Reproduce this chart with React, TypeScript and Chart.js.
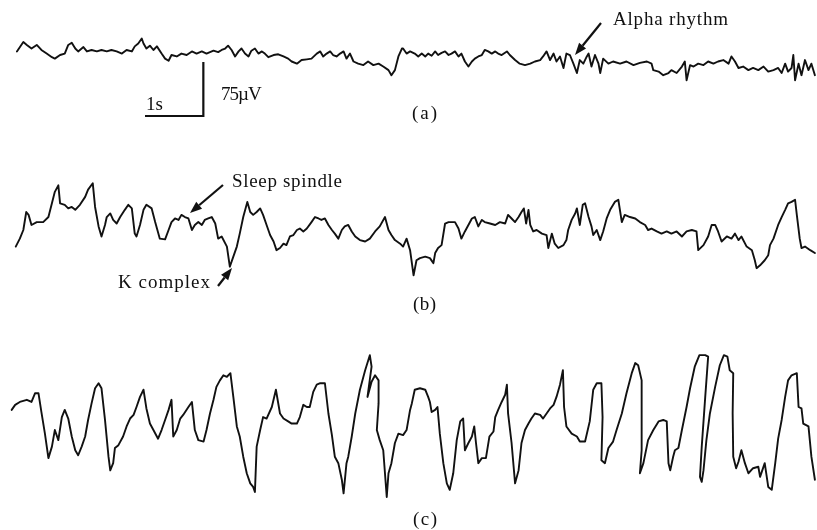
import React, { useEffect, useRef } from "react";
import { Chart, registerables } from "chart.js";

Chart.register(...registerables);

// ---- Data (time in seconds, amplitude in µV) ----
const TIME_SPAN_S = 14.006;
const CHART_UV_SPAN = 736; // vertical extent of the page, µV
const TRACE_LABELS = ["(a)", "(b)", "(c)"];
const TRACE_OFFSETS_UV = [76.4, 326.4, 597.2];
const SCALE_BAR_TIME_S = 1;
const SCALE_BAR_UV = 75;

const traceA: [number, number][] = [
  [0.29,5],[0.40,18],[0.46,14],[0.54,9],[0.63,14],[0.71,7],[0.80,2],[0.89,-3],[0.94,-5],[1.03,0],[1.11,2],[1.17,14],[1.23,17],[1.29,9],[1.34,5],[1.43,11],[1.49,5],[1.57,7],[1.66,5],[1.74,7],[1.83,5],[1.91,7],[2.00,5],[2.09,2],[2.17,7],[2.26,5],[2.31,12],[2.37,16],[2.43,23],[2.46,16],[2.51,9],[2.57,13],[2.63,7],[2.69,12],[2.77,2],[2.83,-5],[2.89,-8],[2.94,0],[3.03,-2],[3.11,2],[3.20,0],[3.29,5],[3.37,2],[3.46,5],[3.54,2],[3.66,6],[3.74,4],[3.80,7],[3.86,9],[3.91,13],[3.97,7],[4.03,-2],[4.09,5],[4.14,9],[4.20,2],[4.26,-2],[4.31,6],[4.37,9],[4.43,2],[4.49,5],[4.54,2],[4.60,-3],[4.69,0],[4.77,1],[4.86,-2],[4.94,-5],[5.00,-9],[5.09,-12],[5.17,-7],[5.26,-6],[5.34,-5],[5.43,2],[5.49,5],[5.54,-2],[5.60,2],[5.66,5],[5.71,0],[5.77,-2],[5.83,2],[5.89,5],[5.94,-5],[6.00,2],[6.06,-9],[6.14,-12],[6.23,-14],[6.31,-9],[6.40,-14],[6.49,-12],[6.57,-16],[6.66,-21],[6.71,-28],[6.77,-21],[6.83,-2],[6.89,9],[6.91,9],[6.97,2],[7.03,5],[7.11,2],[7.17,-2],[7.23,2],[7.29,-2],[7.34,2],[7.40,-1],[7.46,5],[7.51,0],[7.57,3],[7.63,5],[7.69,0],[7.74,2],[7.80,5],[7.86,-2],[7.91,2],[7.97,-9],[8.03,-16],[8.09,-9],[8.14,-5],[8.20,-2],[8.26,0],[8.31,7],[8.37,5],[8.43,2],[8.49,5],[8.54,2],[8.60,0],[8.69,5],[8.74,0],[8.83,-7],[8.91,-12],[9.00,-14],[9.09,-12],[9.17,-9],[9.26,-7],[9.31,-2],[9.37,5],[9.43,-7],[9.49,2],[9.54,-9],[9.60,-2],[9.66,-18],[9.71,2],[9.77,0],[9.83,-12],[9.89,-25],[9.94,-7],[10.00,-12],[10.06,-2],[10.09,2],[10.14,-16],[10.20,0],[10.26,-12],[10.29,-25],[10.34,-5],[10.43,-12],[10.51,-9],[10.63,-12],[10.74,-9],[10.86,-14],[10.97,-11],[11.09,-9],[11.17,-12],[11.20,-21],[11.29,-23],[11.37,-28],[11.46,-25],[11.51,-21],[11.60,-25],[11.69,-16],[11.74,-9],[11.77,-35],[11.83,-14],[11.89,-16],[11.97,-12],[12.06,-14],[12.14,-9],[12.23,-12],[12.31,-9],[12.40,-7],[12.49,-12],[12.54,-2],[12.60,-9],[12.66,-18],[12.74,-16],[12.83,-21],[12.91,-18],[13.00,-21],[13.09,-16],[13.17,-23],[13.26,-21],[13.34,-18],[13.40,-25],[13.46,-12],[13.51,-23],[13.57,-18],[13.60,0],[13.63,-35],[13.69,-12],[13.74,-28],[13.80,-7],[13.86,-21],[13.91,-12],[13.97,-28]
];

const traceB: [number, number][] = [
  [0.27,-16],[0.34,-5],[0.40,7],[0.45,32],[0.49,28],[0.54,14],[0.63,18],[0.74,18],[0.83,25],[0.89,44],[0.94,60],[1.00,69],[1.03,44],[1.11,42],[1.17,37],[1.23,39],[1.29,35],[1.37,42],[1.46,53],[1.51,63],[1.59,72],[1.63,39],[1.69,12],[1.74,-2],[1.80,14],[1.83,25],[1.89,30],[1.94,21],[2.00,16],[2.06,25],[2.14,35],[2.20,42],[2.26,37],[2.31,2],[2.34,-2],[2.40,14],[2.46,35],[2.51,42],[2.60,37],[2.66,18],[2.74,-5],[2.83,-6],[2.89,7],[2.94,18],[3.00,23],[3.06,21],[3.11,28],[3.17,25],[3.23,23],[3.29,7],[3.34,14],[3.40,18],[3.46,14],[3.51,21],[3.57,23],[3.63,25],[3.69,16],[3.74,-5],[3.80,-2],[3.89,-16],[3.94,-44],[4.00,-30],[4.06,-16],[4.11,2],[4.17,25],[4.24,46],[4.29,32],[4.34,28],[4.40,32],[4.46,37],[4.51,28],[4.57,14],[4.63,0],[4.69,-9],[4.74,-21],[4.80,-18],[4.86,-12],[4.91,-14],[4.97,-2],[5.03,0],[5.09,7],[5.14,9],[5.20,5],[5.26,9],[5.34,18],[5.40,25],[5.46,23],[5.51,21],[5.57,23],[5.63,14],[5.69,7],[5.74,2],[5.80,-5],[5.86,7],[5.91,12],[5.97,14],[6.03,5],[6.09,-2],[6.17,-7],[6.26,-9],[6.34,-5],[6.43,5],[6.51,12],[6.60,25],[6.66,7],[6.71,0],[6.77,-7],[6.86,-12],[6.91,-16],[6.97,-5],[7.03,-21],[7.09,-56],[7.14,-35],[7.20,-32],[7.29,-30],[7.37,-32],[7.43,-39],[7.46,-25],[7.51,-18],[7.57,-14],[7.63,16],[7.69,18],[7.80,18],[7.86,9],[7.91,-5],[7.97,5],[8.03,14],[8.09,23],[8.14,25],[8.20,12],[8.26,21],[8.31,18],[8.40,16],[8.49,14],[8.57,18],[8.66,16],[8.71,28],[8.77,23],[8.83,18],[8.89,25],[8.94,32],[8.98,37],[9.02,16],[9.06,35],[9.09,14],[9.14,5],[9.20,7],[9.29,2],[9.37,0],[9.40,-18],[9.46,2],[9.51,-12],[9.57,-18],[9.66,-14],[9.71,-7],[9.74,7],[9.80,21],[9.86,30],[9.89,37],[9.94,14],[9.99,42],[10.03,44],[10.09,25],[10.14,12],[10.17,0],[10.23,7],[10.29,-7],[10.34,5],[10.40,23],[10.46,35],[10.54,46],[10.60,49],[10.66,18],[10.71,28],[10.80,25],[10.89,23],[10.97,18],[11.06,14],[11.11,7],[11.17,9],[11.26,5],[11.34,2],[11.43,5],[11.51,2],[11.60,5],[11.69,-2],[11.77,5],[11.86,7],[11.94,5],[11.97,-21],[12.06,-14],[12.14,-2],[12.20,14],[12.26,14],[12.31,5],[12.37,-9],[12.46,-2],[12.54,-5],[12.60,2],[12.66,-7],[12.71,-2],[12.80,-16],[12.89,-21],[12.94,-35],[12.97,-46],[13.03,-42],[13.11,-35],[13.17,-28],[13.20,-14],[13.26,-5],[13.34,14],[13.40,25],[13.46,35],[13.51,44],[13.57,46],[13.63,49],[13.66,28],[13.71,-5],[13.74,-18],[13.80,-16],[13.89,-21],[13.97,-25]
];

const traceC: [number, number][] = [
  [0.20,28],[0.26,35],[0.34,39],[0.46,42],[0.54,39],[0.60,51],[0.66,51],[0.71,25],[0.77,-5],[0.83,-39],[0.89,-23],[0.94,0],[1.00,-14],[1.06,18],[1.11,28],[1.17,16],[1.23,-9],[1.29,-28],[1.34,-35],[1.40,-23],[1.46,-9],[1.51,14],[1.57,37],[1.63,58],[1.69,65],[1.74,58],[1.80,14],[1.86,-37],[1.89,-56],[1.94,-46],[1.97,-25],[2.03,-21],[2.11,-9],[2.17,5],[2.23,16],[2.29,21],[2.34,32],[2.40,46],[2.46,56],[2.51,30],[2.57,9],[2.63,0],[2.71,-12],[2.77,0],[2.83,14],[2.89,28],[2.94,42],[2.97,-9],[3.03,0],[3.09,16],[3.14,21],[3.23,32],[3.29,39],[3.34,0],[3.40,-14],[3.49,-16],[3.54,0],[3.60,23],[3.66,42],[3.71,60],[3.77,69],[3.83,76],[3.89,74],[3.95,79],[4.00,46],[4.06,5],[4.11,-9],[4.17,-37],[4.23,-60],[4.29,-74],[4.34,-79],[4.37,-86],[4.40,-23],[4.46,0],[4.51,18],[4.57,16],[4.66,32],[4.73,56],[4.80,23],[4.86,16],[4.94,12],[5.00,9],[5.09,9],[5.14,18],[5.20,35],[5.26,32],[5.31,32],[5.37,53],[5.43,63],[5.49,65],[5.57,65],[5.63,23],[5.69,-7],[5.74,-37],[5.80,-46],[5.86,-69],[5.89,-88],[5.94,-46],[5.97,-37],[6.03,-9],[6.09,23],[6.17,56],[6.26,83],[6.34,104],[6.37,88],[6.30,46],[6.37,67],[6.43,76],[6.49,69],[6.49,37],[6.46,0],[6.51,-14],[6.57,-28],[6.63,-93],[6.66,-60],[6.71,-46],[6.77,-18],[6.83,-5],[6.91,-7],[6.97,0],[7.03,28],[7.06,37],[7.11,56],[7.20,58],[7.29,56],[7.34,46],[7.37,39],[7.40,25],[7.46,28],[7.50,32],[7.54,-5],[7.60,-46],[7.66,-74],[7.71,-83],[7.77,-60],[7.83,-14],[7.89,12],[7.94,16],[7.97,-28],[8.03,-18],[8.09,-9],[8.13,5],[8.16,-18],[8.20,-46],[8.26,-39],[8.33,-39],[8.39,-9],[8.46,-2],[8.49,18],[8.54,28],[8.60,39],[8.66,49],[8.69,63],[8.71,23],[8.77,-18],[8.83,-74],[8.89,-56],[8.94,-18],[9.00,0],[9.06,9],[9.11,16],[9.17,23],[9.26,21],[9.31,16],[9.37,23],[9.43,30],[9.49,35],[9.54,46],[9.60,63],[9.65,83],[9.67,32],[9.71,5],[9.80,-5],[9.89,-9],[9.94,-16],[10.03,-16],[10.11,12],[10.17,56],[10.23,65],[10.31,65],[10.33,18],[10.31,-42],[10.37,-46],[10.43,-25],[10.51,-16],[10.57,0],[10.66,23],[10.74,51],[10.83,79],[10.89,93],[10.94,90],[11.00,69],[11.00,-28],[10.97,-60],[11.03,-46],[11.11,-14],[11.20,0],[11.29,12],[11.37,14],[11.43,12],[11.46,-46],[11.49,-56],[11.54,-37],[11.57,-28],[11.63,-25],[11.69,0],[11.77,32],[11.83,58],[11.91,88],[11.99,104],[12.09,104],[12.14,102],[12.09,46],[12.03,-23],[12.00,-65],[12.03,-72],[12.06,-56],[12.11,-14],[12.17,23],[12.26,60],[12.34,90],[12.41,104],[12.47,102],[12.51,83],[12.57,79],[12.56,23],[12.57,-37],[12.62,-53],[12.66,-44],[12.71,-28],[12.77,-46],[12.83,-60],[12.91,-53],[13.00,-51],[13.03,-65],[13.11,-46],[13.17,-79],[13.23,-83],[13.29,-46],[13.34,-12],[13.40,14],[13.46,46],[13.51,69],[13.57,76],[13.66,79],[13.69,32],[13.74,30],[13.77,9],[13.86,5],[13.91,-37],[13.97,-69]
];

const TRACES = [traceA, traceB, traceC];

// ---- Annotations ----
const FONT = '"Liberation Serif", "DejaVu Serif", serif';

type Label = { text: string; x: number; y: number; w: number };
const LABELS: Label[] = [
  { text: "Alpha rhythm", x: 613, y: 25, w: 115 },
  { text: "1s", x: 146, y: 110, w: 17 },
  { text: "75\u00b5V", x: 221, y: 100, w: 39 },
  { text: TRACE_LABELS[0], x: 412, y: 119, w: 25 },
  { text: "Sleep spindle", x: 232, y: 187, w: 110 },
  { text: "K complex", x: 118, y: 288, w: 92 },
  { text: TRACE_LABELS[1], x: 413, y: 310, w: 23 },
  { text: TRACE_LABELS[2], x: 413, y: 525, w: 24 },
];

const ARROWS: [number, number, number, number][] = [
  [601, 23, 575, 55],
  [223, 185, 190, 213],
  [218, 286, 232, 268],
];

const SCALE_BAR_AT = { t: 2.486, uv: -161.1 };

function drawArrow(ctx: CanvasRenderingContext2D, x1: number, y1: number, x2: number, y2: number) {
  const ang = Math.atan2(y2 - y1, x2 - x1);
  const head = 12;
  const half = 4.5;
  const bx = x2 - head * Math.cos(ang);
  const by = y2 - head * Math.sin(ang);
  ctx.beginPath();
  ctx.moveTo(x1, y1);
  ctx.lineTo(bx, by);
  ctx.lineWidth = 2.2;
  ctx.stroke();
  ctx.beginPath();
  ctx.moveTo(x2, y2);
  ctx.lineTo(bx + half * Math.sin(ang), by - half * Math.cos(ang));
  ctx.lineTo(bx - half * Math.sin(ang), by + half * Math.cos(ang));
  ctx.closePath();
  ctx.fill();
}

const annotationPlugin = {
  id: "eegAnnotations",
  afterDatasetsDraw(chart: any) {
    const ctx: CanvasRenderingContext2D = chart.ctx;
    const xs = chart.scales.x;
    const ys = chart.scales.y;
    ctx.save();
    ctx.strokeStyle = "#111";
    ctx.fillStyle = "#111";
    // scale bar: 1 s horizontally, 75 µV vertically
    const x0 = xs.getPixelForValue(SCALE_BAR_AT.t);
    const x1 = xs.getPixelForValue(SCALE_BAR_AT.t + SCALE_BAR_TIME_S);
    const y0 = ys.getPixelForValue(SCALE_BAR_AT.uv);
    const y1 = ys.getPixelForValue(SCALE_BAR_AT.uv + SCALE_BAR_UV);
    ctx.lineWidth = 2.2;
    ctx.beginPath();
    ctx.moveTo(x0, y0);
    ctx.lineTo(x1, y0);
    ctx.lineTo(x1, y1);
    ctx.stroke();
    // arrows
    ARROWS.forEach(([a, b, c, d]) => drawArrow(ctx, a, b, c, d));
    // labels
    ctx.font = `19px ${FONT}`;
    ctx.textBaseline = "alphabetic";
    ctx.textAlign = "left";
    LABELS.forEach((l) => {
      (ctx as any).letterSpacing = "0px";
      const m = ctx.measureText(l.text).width;
      const n = Math.max(1, l.text.length - 1);
      const sp = Math.max(-1, (l.w - m) / n);
      (ctx as any).letterSpacing = `${sp.toFixed(2)}px`;
      ctx.fillText(l.text, l.x, l.y);
    });
    (ctx as any).letterSpacing = "0px";
    ctx.restore();
  },
};

export default function App() {
  const canvasRef = useRef<HTMLCanvasElement | null>(null);

  useEffect(() => {
    if (!canvasRef.current) return;
    const datasets = TRACES.map((trace, i) => ({
      label: TRACE_LABELS[i],
      data: trace.map(([t, v]) => ({ x: t, y: v - TRACE_OFFSETS_UV[i] })),
      borderColor: "#111",
      borderWidth: 1.9,
      pointRadius: 0,
      tension: 0,
      fill: false,
      borderJoinStyle: "round" as const,
      borderCapStyle: "round" as const,
    }));
    const chart = new Chart(canvasRef.current, {
      type: "line",
      data: { datasets },
      options: {
        animation: false,
        responsive: false,
        devicePixelRatio: 1,
        layout: { padding: 0 },
        parsing: false as any,
        normalized: false,
        scales: {
          x: { type: "linear", min: 0, max: TIME_SPAN_S, display: false },
          y: { type: "linear", min: -CHART_UV_SPAN, max: 0, display: false },
        },
        plugins: {
          legend: { display: false },
          tooltip: { enabled: false },
        },
        events: [],
      },
      plugins: [annotationPlugin],
    });
    return () => chart.destroy();
  }, []);

  return (
    <div style={{ position: "absolute", left: 0, top: 0, width: 817, height: 530, background: "#fff" }}>
      <canvas ref={canvasRef} width={817} height={530} style={{ display: "block" }} />
    </div>
  );
}
